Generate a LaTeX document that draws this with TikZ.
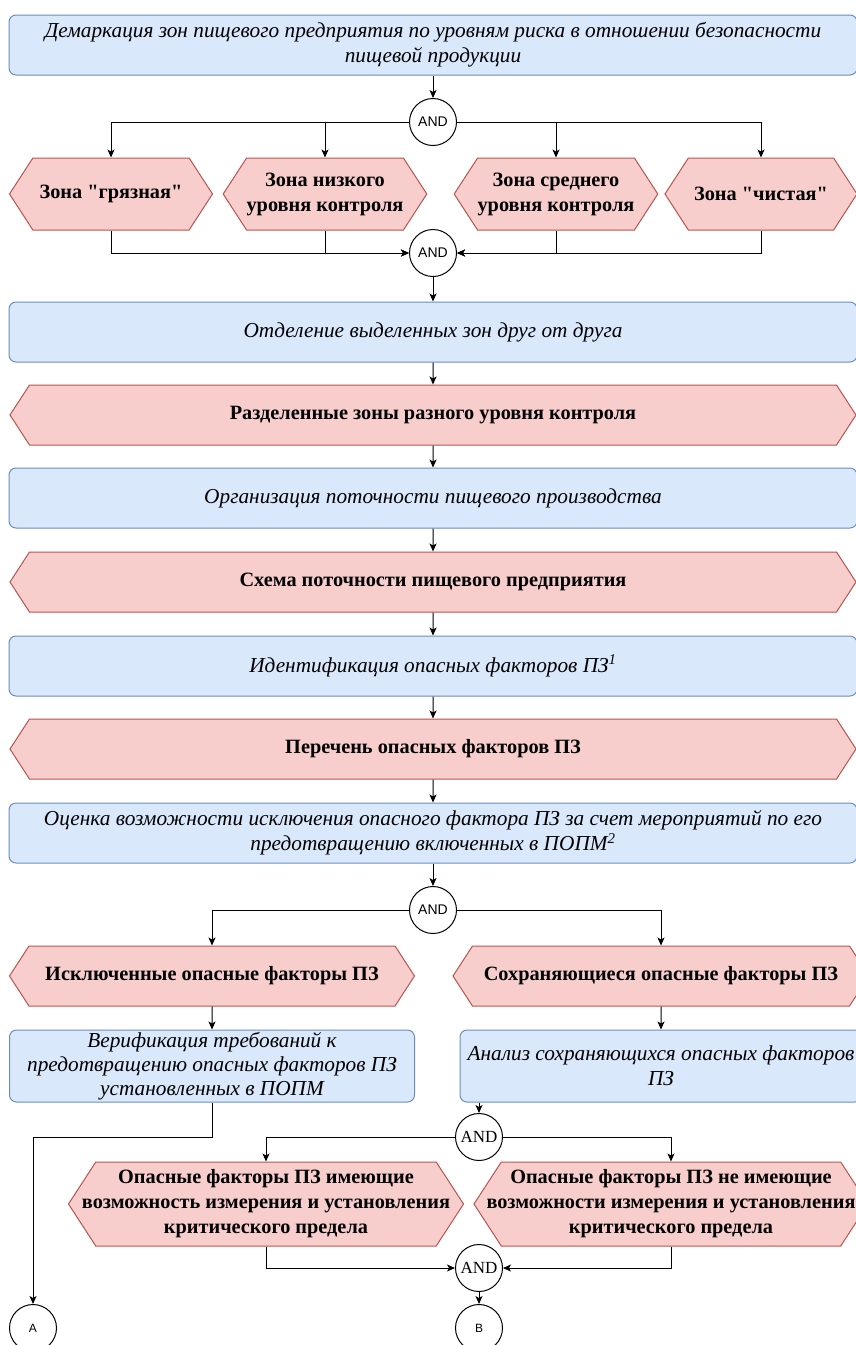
\documentclass[tikz,border=0pt]{standalone}
\usepackage{fontspec}
\setmainfont{Liberation Serif}[Ligatures=TeXOff]
\newfontfamily\gatefont{Liberation Sans}
\usetikzlibrary{shapes.symbols,arrows.meta}
\definecolor{procfill}{HTML}{DAE8FC}
\definecolor{procline}{HTML}{6C8EBF}
\definecolor{prodfill}{HTML}{F8CECC}
\definecolor{prodline}{HTML}{B85450}
\begin{document}
\begin{tikzpicture}[x=1pt,y=-1pt,line width=1pt,
    proc/.style={draw=procline,fill=procfill,rounded corners=7pt,align=center,inner sep=0pt,
      minimum height=60pt,font=\fontsize{21.3}{25}\selectfont\itshape},
    prod/.style={signal,signal to=west and east,signal pointer angle=114,draw=prodline,fill=prodfill,
      align=center,inner sep=0pt,minimum height=60pt,font=\fontsize{20.3}{25}\selectfont\bfseries},
    gate/.style={circle,draw,fill=white,inner sep=0pt,minimum size=47pt,font=\gatefont\fontsize{14}{14}\selectfont},
    sgate/.style={gate,font=\fontsize{17}{17}\selectfont},
    arr/.style={-{Stealth[length=8pt,width=7pt,inset=2pt]}}]
  \useasboundingbox[fill=white] (0,0) rectangle (855,1345);
  % nodes
  \node[proc,minimum width=848pt] (demarc) at (433,45) {Демаркация зон пищевого предприятия по уровням риска в отношении безопасности\\пищевой продукции};
  \node[gate] (and1) at (433,122) {AND};
  \node[prod,minimum width=203pt,minimum height=72pt] (dirty) at (111,194) {Зона "грязная"};
  \node[prod,minimum width=202pt,minimum height=72pt] (low) at (325,194) {Зона низкого\\уровня контроля};
  \node[prod,minimum width=198pt,minimum height=72pt] (mid) at (556,194) {Зона среднего\\уровня контроля};
  \node[prod,minimum width=192pt,minimum height=72pt] (clean) at (761,194) {Зона "чистая"};
  \node[gate] (and2) at (433,253) {AND};
  \node[proc,minimum width=848pt] (separ) at (433,332) {Отделение выделенных зон друг от друга};
  \node[prod,minimum width=846pt] (zones) at (433,415) {Разделенные зоны разного уровня контроля};
  \node[proc,minimum width=848pt] (flow) at (433,498) {Организация поточности пищевого производства};
  \node[prod,minimum width=846pt] (scheme) at (433,582) {Схема поточности пищевого предприятия};
  \node[proc,minimum width=848pt] (ident) at (433,666) {Идентификация опасных факторов ПЗ\textsuperscript{1}};
  \node[prod,minimum width=846pt] (list) at (433,749) {Перечень опасных факторов ПЗ};
  \node[proc,minimum width=848pt] (assess) at (433,833) {Оценка возможности исключения опасного фактора ПЗ за счет мероприятий по его\\предотвращению включенных в ПОПМ\textsuperscript{2}};
  \node[gate] (and3) at (433,910) {AND};
  \node[prod,minimum width=405pt] (excl) at (212,976) {Исключенные опасные факторы ПЗ};
  \node[prod,minimum width=416pt] (kept) at (661,976) {Сохраняющиеся опасные факторы ПЗ};
  \node[proc,minimum width=405pt,minimum height=72pt,font=\fontsize{21.3}{24}\selectfont\itshape] (verif) at (212,1066) {Верификация требований к\\предотвращению опасных факторов ПЗ\\установленных в ПОПМ};
  \node[proc,minimum width=402pt,minimum height=72pt] (anal) at (661,1066) {Анализ сохраняющихся опасных факторов\\ПЗ};
  \node[sgate] (and4) at (479,1137) {AND};
  \node[prod,minimum width=395pt,minimum height=84pt,inner xsep=-30pt] (meas) at (266,1204) {Опасные факторы ПЗ имеющие\\возможность измерения и установления\\критического предела};
  \node[prod,minimum width=394pt,minimum height=84pt,inner xsep=-30pt] (nomeas) at (671,1204) {Опасные факторы ПЗ не имеющие\\возможности измерения и установления\\критического предела};
  \node[sgate] (and5) at (479,1268) {AND};
  \node[gate,font=\gatefont\fontsize{12}{12}\selectfont] (pa) at (33,1328) {A};
  \node[gate,font=\gatefont\fontsize{12}{12}\selectfont] (pb) at (479,1328) {B};
  % connectors
  \draw[arr] (demarc) -- (and1);
  \foreach \z in {dirty,low} \draw[arr] (and1.west) -| (\z.north);
  \foreach \z in {mid,clean} \draw[arr] (and1.east) -| (\z.north);
  \foreach \z in {dirty,low} \draw[arr] (\z.south) |- (and2.west);
  \foreach \z in {mid,clean} \draw[arr] (\z.south) |- (and2.east);
  \draw[arr] (and2) -- (separ);
  \draw[arr] (separ) -- (zones);
  \draw[arr] (zones) -- (flow);
  \draw[arr] (flow) -- (scheme);
  \draw[arr] (scheme) -- (ident);
  \draw[arr] (ident) -- (list);
  \draw[arr] (list) -- (assess);
  \draw[arr] (assess) -- (and3);
  \draw[arr] (and3.west) -| (excl.north);
  \draw[arr] (and3.east) -| (kept.north);
  \draw[arr] (excl) -- (verif);
  \draw[arr] (kept) -- (anal);
  \draw[arr] (and4.north |- anal.south) -- (and4.north);
  \draw[arr] (verif.south) -- (verif.south |- and4) -| (pa.north);
  \draw[arr] (and4.west) -| (meas.north);
  \draw[arr] (and4.east) -| (nomeas.north);
  \draw[arr] (meas.south) |- (and5.west);
  \draw[arr] (nomeas.south) |- (and5.east);
  \draw[arr] (and5) -- (pb);
\end{tikzpicture}
\end{document}
